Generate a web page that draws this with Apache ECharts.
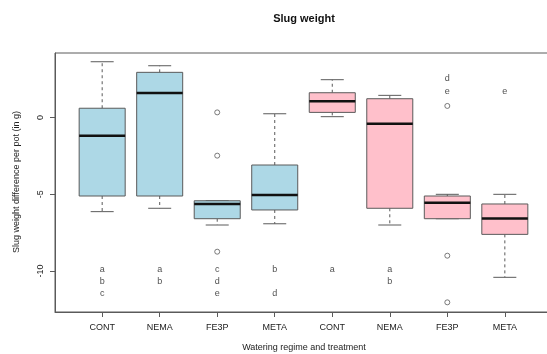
<!DOCTYPE html>
<html>
<head>
<meta charset="utf-8">
<script src="https://cdn.jsdelivr.net/npm/echarts@6/dist/echarts.min.js"></script>
<style>html,body{margin:0;padding:0;background:#fff;}#c{width:547px;height:354px;}</style>
</head>
<body>
<div id="c"></div>
<script>
// ---- data ----
const categories = ['CONT', 'NEMA', 'FE3P', 'META', 'CONT', 'NEMA', 'FE3P', 'META'];
const fillGroup = [0, 0, 0, 0, 1, 1, 1, 1]; // 0 = light blue, 1 = pink
const whiskerLow  = [-6.13, -5.91, -7.00, -6.92, 0.06, -7.00, -6.59, -10.41];
const q1          = [-5.11, -5.11, -6.59, -6.02, 0.34, -5.91, -6.59, -7.61];
const median      = [-1.18,  1.60, -5.63, -5.05, 1.06, -0.40, -5.55, -6.57];
const q3          = [ 0.61,  2.95, -5.42, -3.09, 1.62,  1.23, -5.11, -5.63];
const whiskerHigh = [ 3.64,  3.38, -5.42,  0.25, 2.47,  1.45, -5.00, -5.00];
const outlierPos   = [3, 3, 3, 7, 7, 7];
const outlierValue = [0.34, -2.48, -8.74, 0.76, -9.00, -12.04];
const letterPos   = [1, 1, 1, 2, 2, 3, 3, 3, 4, 4, 5, 6, 6, 7, 7, 8];
const letterValue = [-9.87, -10.67, -11.48, -9.87, -10.67, -9.87, -10.67, -11.48, -9.87, -11.48, -9.87, -9.87, -10.67, 2.52, 1.72, 1.72];
const letterText  = ['a', 'b', 'c', 'a', 'b', 'c', 'd', 'e', 'b', 'd', 'a', 'a', 'b', 'd', 'e', 'e'];
const yTicks = [-10, -5, 0];
const xTicks = [1, 2, 3, 4, 5, 6, 7, 8];

// ---- build series data ----
const boxData = categories.map((c, i) => [i + 1, whiskerLow[i], q1[i], median[i], q3[i], whiskerHigh[i], fillGroup[i]]);
const outlierData = outlierPos.map((p, i) => [p, outlierValue[i]]);
const letterData = letterPos.map((p, i) => [p, letterValue[i], letterText[i]]);

const fills = ['#ADD8E6', '#FFC0CB'];
const stroke = '#5a5a5a';
const font = 'Liberation Sans, Arial, sans-serif';

const chart = echarts.init(document.getElementById('c'), null, { renderer: 'canvas' });
chart.setOption({
  animation: false,
  backgroundColor: '#fff',
  grid: { left: 55, top: 53, width: 497, height: 259, outerBoundsMode: 'none', containLabel: false,
    show: true, borderColor: stroke, borderWidth: 1, backgroundColor: 'transparent' },
  xAxis: {
    type: 'value', min: 0.18, max: 8.82,
    axisLine: { show: true, onZero: false, lineStyle: { color: stroke } },
    axisTick: { show: true, length: 5, customValues: xTicks, lineStyle: { color: stroke } },
    axisLabel: { customValues: xTicks, margin: 11, color: '#222', fontSize: 9, fontFamily: font,
      formatter: v => categories[Math.round(v) - 1] },
    splitLine: { show: false }
  },
  yAxis: {
    type: 'value', min: -12.67, max: 4.21,
    axisLine: { show: true, onZero: false, lineStyle: { color: stroke } },
    axisTick: { show: true, length: 5, customValues: yTicks, lineStyle: { color: stroke } },
    axisLabel: { customValues: yTicks, rotate: 90, margin: 10, color: '#222', fontSize: 9, fontFamily: font,
      formatter: v => String(v) },
    splitLine: { show: false }
  },
  graphic: [
    { type: 'text', x: 304, y: 19, style: { text: 'Slug weight', textAlign: 'center', textVerticalAlign: 'middle', font: 'bold 11px ' + font, fill: '#111' } },
    { type: 'text', x: 304, y: 348, style: { text: 'Watering regime and treatment', textAlign: 'center', textVerticalAlign: 'middle', font: '9px ' + font, fill: '#222' } },
    { type: 'text', x: 17, y: 182, rotation: Math.PI / 2, style: { text: 'Slug weight difference per pot (in g)', textAlign: 'center', textVerticalAlign: 'middle', font: '9px ' + font, fill: '#222' } }
  ],
  series: [
    {
      type: 'custom',
      data: boxData,
      encode: { x: 0, y: [1, 2, 3, 4, 5] },
      renderItem: function (params, api) {
        const x = api.value(0);
        const lo = api.coord([x, api.value(1)]);
        const b1 = api.coord([x, api.value(2)]);
        const md = api.coord([x, api.value(3)]);
        const b3 = api.coord([x, api.value(4)]);
        const hi = api.coord([x, api.value(5)]);
        const hw = api.size([0.4, 0])[0];
        const cw = api.size([0.2, 0])[0];
        const fill = fills[api.value(6)];
        const dash = { stroke: stroke, lineWidth: 1, lineDash: [3, 3] };
        const solid = { stroke: stroke, lineWidth: 1 };
        return {
          type: 'group',
          children: [
            { type: 'line', shape: { x1: b3[0], y1: b3[1], x2: hi[0], y2: hi[1] }, style: dash },
            { type: 'line', shape: { x1: b1[0], y1: b1[1], x2: lo[0], y2: lo[1] }, style: dash },
            { type: 'line', shape: { x1: hi[0] - cw, y1: hi[1], x2: hi[0] + cw, y2: hi[1] }, style: solid },
            { type: 'line', shape: { x1: lo[0] - cw, y1: lo[1], x2: lo[0] + cw, y2: lo[1] }, style: solid },
            { type: 'rect', shape: { x: b3[0] - hw, y: b3[1], width: 2 * hw, height: b1[1] - b3[1] }, style: { fill: fill, stroke: stroke, lineWidth: 1 } },
            { type: 'line', shape: { x1: md[0] - hw, y1: md[1], x2: md[0] + hw, y2: md[1] }, style: { stroke: '#111', lineWidth: 2.5 } }
          ]
        };
      }
    },
    {
      type: 'scatter',
      data: outlierData,
      symbol: 'circle',
      symbolSize: 5,
      itemStyle: { color: '#fff', borderColor: stroke, borderWidth: 1 }
    },
    {
      type: 'scatter',
      data: letterData,
      symbolSize: 0,
      label: { show: true, position: 'inside', formatter: p => p.data[2], color: '#222', fontSize: 9, fontFamily: font }
    }
  ]
});
</script>
</body>
</html>
